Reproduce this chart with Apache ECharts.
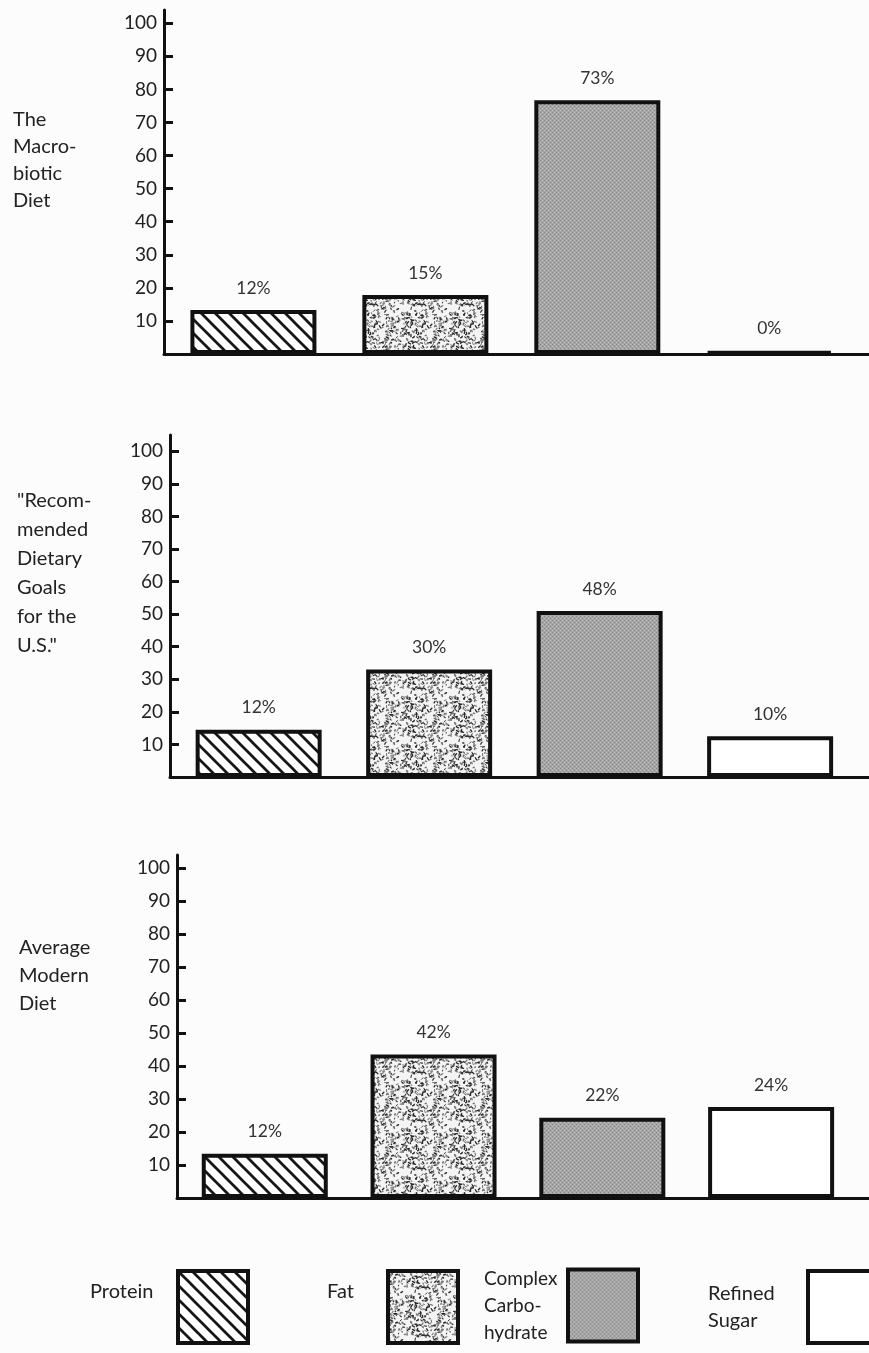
<!DOCTYPE html>
<html>
<head>
<meta charset="utf-8">
<script src="https://cdn.jsdelivr.net/npm/echarts@6/dist/echarts.min.js"></script>
<style>
html,body{margin:0;padding:0;background:#fcfcfc;}
#chart{width:869px;height:1353px;}
</style>
</head>
<body>
<div id="chart"></div>
<script>
// ---- data ----
const nutrients = ['Protein', 'Fat', 'Complex\nCarbo-\nhydrate', 'Refined\nSugar'];
const panelTitles = ['The\nMacro-\nbiotic\nDiet', '"Recom-\nmended\nDietary\nGoals\nfor the\nU.S."', 'Average\nModern\nDiet'];
const macrobioticLabels = ['12%', '15%', '73%', '0%'];
const macrobioticHeights = [13.3, 17.8, 76.7, 0.8];
const goalsLabels = ['12%', '30%', '48%', '10%'];
const goalsHeights = [14.5, 33, 51, 12.5];
const modernLabels = ['12%', '42%', '22%', '24%'];
const modernHeights = [13.4, 43.5, 24.3, 27.6];
const yTickValues = [10, 20, 30, 40, 50, 60, 70, 80, 90, 100];

// ---- textures ----
function makeCanvas(w, h) { const c = document.createElement('canvas'); c.width = w; c.height = h; return c; }
function hatchPattern() {
  const s = 14, c = makeCanvas(s, s), g = c.getContext('2d');
  g.fillStyle = '#ffffff'; g.fillRect(0, 0, s, s);
  g.strokeStyle = '#161616'; g.lineWidth = 2.7;
  for (const k of [-s, 0, s]) { g.beginPath(); g.moveTo(k - 1, -1); g.lineTo(k + s + 1, s + 1); g.stroke(); }
  return c;
}
function specklePattern() {
  const s = 48, c = makeCanvas(s, s), g = c.getContext('2d');
  g.fillStyle = '#f4f4f4'; g.fillRect(0, 0, s, s);
  g.lineCap = 'round';
  let seed = 98765;
  const next = () => { seed = (seed * 1103515245 + 12345) % 2147483648; return seed / 2147483648; };
  for (let i = 0; i < 260; i++) {
    const x = next() * s, y = next() * s, a = next() * Math.PI, l = 0.6 + next() * 2.2;
    g.strokeStyle = next() < 0.6 ? '#2a2a2a' : '#777777';
    g.lineWidth = 0.9 + next() * 0.6;
    for (const dx of [-s, 0, s]) for (const dy of [-s, 0, s]) {
      g.beginPath(); g.moveTo(x + dx, y + dy); g.lineTo(x + dx + Math.cos(a) * l, y + dy + Math.sin(a) * l); g.stroke();
    }
  }
  return c;
}
function greyPattern() {
  const s = 4, c = makeCanvas(s, s), g = c.getContext('2d');
  g.fillStyle = '#a6a6a6'; g.fillRect(0, 0, s, s);
  g.fillStyle = '#828282'; g.fillRect(0, 0, 1, 1); g.fillRect(2, 2, 1, 1);
  g.fillStyle = '#c4c4c4'; g.fillRect(2, 0, 1, 1); g.fillRect(0, 2, 1, 1);
  return c;
}
const fills = [
  { image: hatchPattern(), repeat: 'repeat' },
  { image: specklePattern(), repeat: 'repeat' },
  { image: greyPattern(), repeat: 'repeat' },
  '#ffffff'
];

const panels = [
  { heights: macrobioticHeights, labels: macrobioticLabels, left: 164, top: 10, height: 344, max: 104, titleTop: 106, lh: 27 },
  { heights: goalsHeights, labels: goalsLabels, left: 170, top: 435, height: 342, max: 105, titleTop: 486, lh: 29 },
  { heights: modernHeights, labels: modernLabels, left: 177, top: 855, height: 343, max: 104, titleTop: 934, lh: 28 }
];
const titleLefts = [13, 17, 19];

const FONT = 'Lato, "Open Sans", sans-serif';
const grid = [], xAxis = [], yAxis = [], series = [], title = [];
panels.forEach((p, pi) => {
  grid.push({ left: p.left, right: 0, top: p.top, height: p.height, containLabel: false });
  xAxis.push({
    type: 'value', gridIndex: pi, min: 0.48, max: 4.58,
    axisLine: { show: true, onZero: false, lineStyle: { color: '#111', width: 3 } },
    axisTick: { show: false }, axisLabel: { show: false }, splitLine: { show: false }
  });
  yAxis.push({
    type: 'value', gridIndex: pi, min: 0, max: p.max,
    axisLine: { show: true, onZero: false, lineStyle: { color: '#111', width: 3 } },
    axisTick: { show: true, inside: true, length: 9, customValues: yTickValues, lineStyle: { color: '#111', width: 3 } },
    axisLabel: { show: true, customValues: yTickValues, margin: 7, fontSize: 19, color: '#222', fontFamily: FONT },
    splitLine: { show: false }
  });
  title.push({
    text: panelTitles[pi], left: titleLefts[pi], top: p.titleTop, padding: 0,
    textStyle: { fontSize: 20, fontWeight: 'normal', color: '#222', lineHeight: p.lh, fontFamily: FONT }
  });
  nutrients.forEach((n, ni) => {
    series.push({
      type: 'bar', name: n, xAxisIndex: pi, yAxisIndex: pi,
      barWidth: 126, barGap: '-100%', silent: true, animation: false,
      data: [[ni + 1, p.heights[ni]]],
      itemStyle: { color: fills[ni], borderColor: '#111', borderWidth: 4 },
      label: { show: true, position: 'top', distance: 13, formatter: p.labels[ni], fontSize: 17.5, color: '#333', fontFamily: FONT }
    });
  });
});

// legend: text start x, icon left x
const legendTextLeft = [90, 327, 484, 708];
const legendIconLeft = [178, 388, 568, 808];
const legend = nutrients.map((n, i) => {
  const lines = n.split('\n');
  const w = legendIconLeft[i] - 5 - legendTextLeft[i];
  const single = lines.length === 1;
  return {
    data: [n], left: legendTextLeft[i], top: lines.length === 3 ? 1265 : 1269, padding: 0,
    icon: 'rect', itemWidth: 70, itemHeight: 72, align: 'right', selectedMode: false,
    itemStyle: { borderColor: '#111', borderWidth: 4 },
    formatter: () => lines.map(l => '{a|' + l + '}').join('\n'),
    textStyle: {
      fontFamily: FONT, fontSize: 20, color: '#222', lineHeight: 27,
      rich: { a: { width: w, align: 'left', fontSize: i === 2 ? 19 : 20, lineHeight: 27, color: '#222', fontFamily: FONT, padding: single ? [0, 0, 30, 0] : 0 } }
    }
  };
});

const chart = echarts.init(document.getElementById('chart'), null, { renderer: 'canvas' });
chart.setOption({
  backgroundColor: '#fcfcfc',
  animation: false,
  title, grid, xAxis, yAxis, series, legend
});
</script>
</body>
</html>
